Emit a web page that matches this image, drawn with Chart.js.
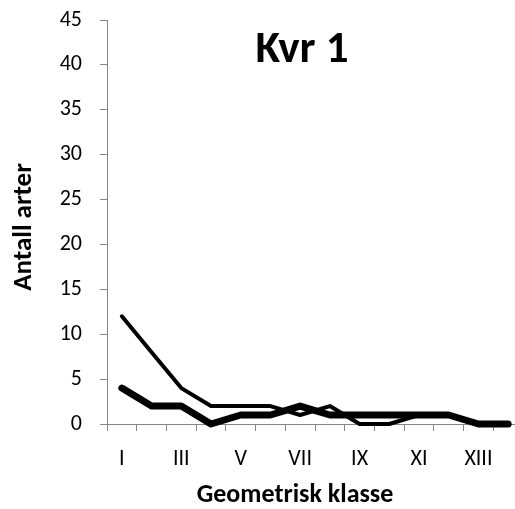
<!DOCTYPE html>
<html>
<head>
<meta charset="utf-8">
<script src="https://cdn.jsdelivr.net/npm/chart.js@4"></script>
<style>
html,body{margin:0;padding:0;background:#fff;overflow:hidden;}
#wrap{position:absolute;left:0;top:0;width:523px;height:509px;}
</style>
</head>
<body>
<div id="wrap"><canvas id="c"></canvas></div>
<script>
const categories = ['I','II','III','IV','V','VI','VII','VIII','IX','X','XI','XII','XIII','XIV'];
const thinSeries = [12, 8, 4, 2, 2, 2, 1, 2, 0, 0, 1, 1, 0, 0];
const thickSeries = [4, 2, 2, 0, 1, 1, 2, 1, 1, 1, 1, 1, 0, 0];
const yTicks = [0, 5, 10, 15, 20, 25, 30, 35, 40, 45];
const chartTitle = 'Kvr 1';
const xTitle = 'Geometrisk klasse';
const yTitle = 'Antall arter';

const FONT = "Carlito, Lato, 'Liberation Sans', sans-serif";
const AX = '#868686';

const textPlugin = {
  id: 'overlayText',
  afterDraw(chart) {
    const ctx = chart.ctx;
    ctx.save();
    ctx.fillStyle = '#000';
    ctx.textAlign = 'center';
    ctx.textBaseline = 'middle';
    ctx.font = 'bold 45px ' + FONT;
    ctx.fillText(chartTitle, 302, 51);
    ctx.font = 'bold 26px ' + FONT;
    ctx.fillText(xTitle, 295, 495);
    ctx.translate(24, 227);
    ctx.rotate(-Math.PI / 2);
    ctx.font = 'bold 27px ' + FONT;
    ctx.fillText(yTitle, 0, 0);
    ctx.restore();
  }
};

new Chart(document.getElementById('c'), {
  type: 'line',
  data: {
    labels: categories,
    datasets: [
      { label: 'thick', data: thickSeries, borderColor: '#000', borderWidth: 7, pointRadius: 0, tension: 0, borderCapStyle: 'round', borderJoinStyle: 'round', clip: false },
      { label: 'thin', data: thinSeries, borderColor: '#000', borderWidth: 4, pointRadius: 0, tension: 0, borderCapStyle: 'round', borderJoinStyle: 'round', clip: false }
    ]
  },
  options: {
    responsive: true,
    maintainAspectRatio: false,
    animation: false,
    layout: { padding: { left: 0, right: 0, top: 20, bottom: 0 } },
    plugins: { legend: { display: false }, tooltip: { enabled: false } },
    scales: {
      x: {
        type: 'category',
        offset: true,
        grid: { offset: true, drawOnChartArea: false, drawTicks: true, tickLength: 7, color: AX, lineWidth: 1 },
        border: { color: AX, width: 1 },
        ticks: {
          autoSkip: false, maxRotation: 0, minRotation: 0, padding: 15,
          color: '#000', font: { family: FONT, size: 22 },
          callback: function(v, i) { return i % 2 === 0 ? categories[i] : ''; }
        },
        title: { display: false },
        afterFit: s => { s.height = 85; s.paddingLeft = 0; s.paddingRight = 0; }
      },
      y: {
        min: 0, max: 45,
        afterBuildTicks: s => { s.ticks = yTicks.map(v => ({ value: v })); },
        grid: { drawOnChartArea: false, drawTicks: true, tickLength: 7, color: AX, lineWidth: 1 },
        border: { color: AX, width: 1 },
        ticks: { color: '#000', font: { family: FONT, size: 22 }, padding: 18 },
        title: { display: false },
        afterFit: s => { s.width = 107; s.paddingTop = 0; s.paddingBottom = 0; }
      }
    }
  },
  plugins: [textPlugin]
});
</script>
</body>
</html>
